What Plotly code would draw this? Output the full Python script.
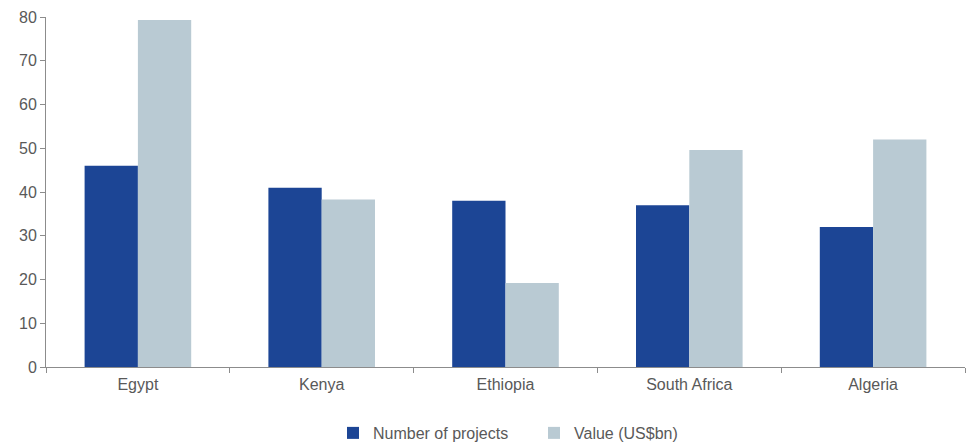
import plotly.graph_objects as go

countries = ["Egypt", "Kenya", "Ethiopia", "South Africa", "Algeria"]
num_projects = [46, 41, 38, 37, 32]
value_usbn = [79.3, 38.3, 19.2, 49.6, 52.0]
y_ticks = [0, 10, 20, 30, 40, 50, 60, 70, 80]

fig = go.Figure()
fig.add_trace(go.Bar(x=countries, y=num_projects, name="Number of projects",
                     marker=dict(color="#1c4595", line=dict(width=0))))
fig.add_trace(go.Bar(x=countries, y=value_usbn, name="Value (US$bn)",
                     marker=dict(color="#b9cad3", line=dict(width=0))))

fig.update_layout(
    width=974, height=445,
    margin=dict(l=46, r=9, t=17, b=78, autoexpand=False),
    paper_bgcolor="white", plot_bgcolor="white",
    barmode="group", bargap=0.42, bargroupgap=0,
    font=dict(family="Liberation Sans, Arial, sans-serif", size=16, color="#595959"),
    showlegend=True,
    legend=dict(orientation="h", x=333 / 974, xref="container", xanchor="left",
                y=0.027, yref="container", yanchor="middle",
                font=dict(size=16, color="#595959"), itemwidth=30,
                entrywidth=156, entrywidthmode="pixels",
                traceorder="normal"),
    xaxis=dict(showline=True, linecolor="#8c8c8c", linewidth=1,
               ticks="outside", tickson="boundaries", ticklen=5, tickcolor="#8c8c8c",
               ticklabelstandoff=3,
               showgrid=False, tickfont=dict(size=16, color="#595959")),
    yaxis=dict(range=[0, 80], tickvals=y_ticks, showline=True, linecolor="#8c8c8c",
               linewidth=1, ticks="outside", ticklen=5, tickcolor="#8c8c8c",
               showgrid=False, zeroline=False, tickfont=dict(size=16, color="#595959")),
)

fig.write_html("out.html")
